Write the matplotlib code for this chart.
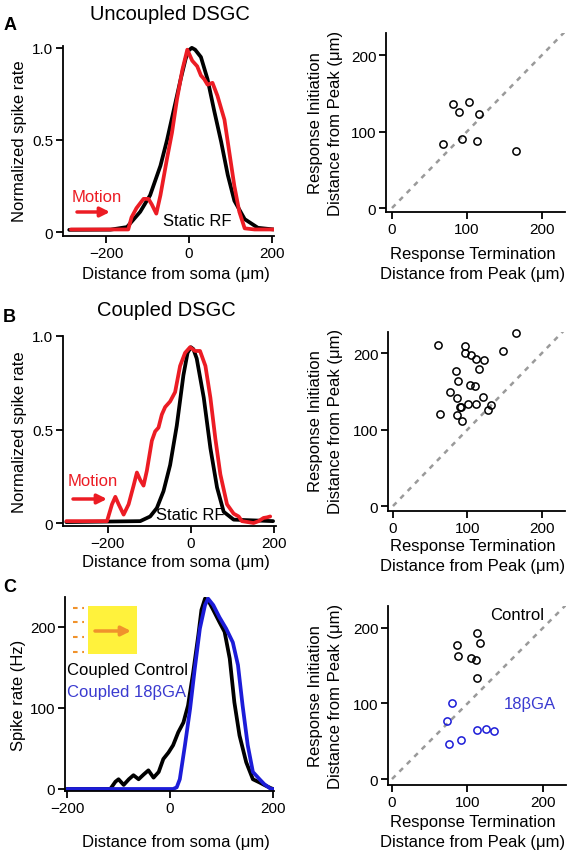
import matplotlib
matplotlib.use('Agg')
import matplotlib.pyplot as plt
from matplotlib.patches import Rectangle
from matplotlib.lines import Line2D

plt.rcParams['font.family'] = ['Liberation Sans', 'DejaVu Sans']

RED = '#ec1c24'
BLUE = '#1c1cd8'
BLUE_TXT = '#3a3ad0'
GREY = '#9a9a9a'
ORANGE = '#f0922c'
YELLOW = '#fff23c'

# ---- panel A: uncoupled DSGC, normalized spike rate vs distance (um)
a_static_x = [-290, -190, -150, -118, -94, -69, -53, -37, -20, -8, -1, 7, 15, 29, 45, 61, 78, 94, 110, 135, 167, 205]
a_static_y = [0.012, 0.013, 0.027, 0.11, 0.2, 0.36, 0.5, 0.66, 0.83, 0.94, 0.985, 1.0, 0.99, 0.95, 0.83, 0.66, 0.49, 0.31, 0.17, 0.07, 0.023, 0.014]
a_motion_x = [-286, -147, -139, -127, -110, -98, -90, -79, -69, -53, -41, -29, -16, -4, 8, 20, 29, 37, 45, 57, 69, 86, 98, 110, 122, 135, 159, 205]
a_motion_y = [0.014, 0.014, 0.08, 0.13, 0.18, 0.18, 0.15, 0.10, 0.2, 0.4, 0.54, 0.72, 0.88, 0.99, 0.93, 0.9, 0.85, 0.83, 0.8, 0.81, 0.74, 0.61, 0.43, 0.25, 0.11, 0.02, 0.014, 0.014]

# ---- panel B: coupled DSGC
b_static_x = [-300, -122, -98, -82, -66, -50, -34, -18, -8, 0, 6, 14, 31, 47, 63, 79, 103, 198]
b_static_y = [0.005, 0.01, 0.035, 0.08, 0.17, 0.31, 0.52, 0.79, 0.91, 0.94, 0.93, 0.88, 0.67, 0.4, 0.19, 0.06, 0.018, 0.01]
b_motion_x = [-300, -202, -190, -182, -174, -162, -150, -138, -130, -122, -114, -106, -94, -86, -78, -70, -62, -50, -38,
              -26, -14, -2, 10, 22, 35, 47, 59, 71, 87, 103, 115, 123, 151, 163, 175, 183, 191]
b_motion_y = [0.01, 0.01, 0.1, 0.14, 0.1, 0.045, 0.1, 0.2, 0.27, 0.23, 0.2, 0.28, 0.44, 0.49, 0.51, 0.58, 0.62, 0.65, 0.7,
              0.84, 0.91, 0.94, 0.92, 0.92, 0.84, 0.67, 0.45, 0.26, 0.1, 0.05, 0.035, 0.01, 0.0, 0.01, 0.027, 0.03, 0.035]

# ---- panel C: spike rate (Hz), control vs 18bGA
c_ctrl_x = [-200, -116, -106, -100, -90, -80, -71, -61, -51, -42, -32, -22, -13, -3, 6, 16, 26, 35, 45, 55, 61, 68, 74,
            84, 96, 106, 116, 125, 135, 148, 161, 174, 186, 196, 200]
c_ctrl_y = [0, 0, 9, 12, 5, 12, 17, 12, 18, 23, 14, 21, 37, 45, 54, 70, 82, 103, 144, 190, 221, 235, 233,
            221, 206, 194, 161, 107, 66, 33, 12, 8, 4, 1, 0]
c_gap_x = [-200, 6, 13, 19, 29, 39, 48, 58, 68, 74, 84, 96, 109, 122, 132, 141, 151, 161, 174, 183, 196, 200]
c_gap_y = [0, 0, 2, 12, 54, 99, 148, 198, 227, 235, 227, 212, 198, 181, 153, 103, 54, 21, 12, 6, 0, 0]

# ---- scatter: termination (x) vs initiation (y), um from peak
a_term = [68, 82, 90, 103, 94, 116, 113, 165]
a_init = [84, 136, 125, 139, 90, 123, 88, 75]
b_term = [61, 96, 97, 105, 112, 122, 116, 148, 165, 84, 87, 104, 110, 77, 86, 90, 91, 101, 111, 121, 131, 127, 63, 86, 92]
b_init = [211, 209, 200, 197, 192, 191, 179, 203, 226, 176, 163, 158, 157, 149, 141, 130, 130, 134, 134, 142, 132, 126, 120, 119, 111]
c_ctrl_term = [86, 88, 105, 111, 113, 116, 112]
c_ctrl_init = [177, 163, 160, 158, 193, 180, 134]
c_gap_term = [80, 73, 75, 91, 113, 124, 135]
c_gap_init = [101, 77, 47, 52, 65, 66, 64]

W, H = 570, 853
fig = plt.figure(figsize=(W / 100, H / 100), dpi=100)


def add_ax(l, t, r, b):
    return fig.add_axes([l / W, 1 - b / H, (r - l) / W, (b - t) / H])


def txt(x, y, s, **kw):
    kw.setdefault('ha', 'center')
    kw.setdefault('va', 'center')
    fig.text(x / W, 1 - y / H, s, **kw)


def style(ax):
    for side in ['top', 'right']:
        ax.spines[side].set_visible(False)
    for side in ['left', 'bottom']:
        ax.spines[side].set_linewidth(1.3)
    ax.tick_params(direction='out', length=5, width=1.3, labelsize=11, pad=2)


def arrow(x0, x1, y, color, lw=2.5, ms=14):
    fig.add_artist(plt.Annotation('', xy=(x1, H - y), xytext=(x0, H - y),
                                  xycoords='figure pixels', textcoords='figure pixels',
                                  arrowprops=dict(arrowstyle='-|>', color=color, lw=lw,
                                                  mutation_scale=ms, shrinkA=0, shrinkB=0)))


ln = dict(lw=2.7, solid_capstyle='round', solid_joinstyle='round')

# left column
axA = add_ax(63, 47, 274, 237)
axA.plot(a_static_x, a_static_y, color='black', **ln)
axA.plot(a_motion_x, a_motion_y, color=RED, **ln)
axA.set_xlim(-305, 206)
axA.set_ylim(-0.0215, 1.01)
axA.set_yticks([0, 0.5, 1.0], ['0', '0.5', '1.0'])

axB = add_ax(63, 337, 276, 527)
axB.plot(b_static_x, b_static_y, color='black', **ln)
axB.plot(b_motion_x, b_motion_y, color=RED, **ln)
axB.set_xlim(-308, 205)
axB.set_ylim(-0.016, 1.0)
axB.set_yticks([0, 0.5, 1.0], ['0', '0.5', '1.0'])

for ax in (axA, axB):
    ax.set_xticks([-200, 0, 200])
    style(ax)

axC = add_ax(65, 598, 274, 792)
axC.plot(c_ctrl_x, c_ctrl_y, color='black', **ln)
axC.plot(c_gap_x, c_gap_y, color=BLUE, **ln)
axC.set_xlim(-204, 202)
axC.set_ylim(-2.5, 237)
axC.set_xticks([-200, 0, 200])
axC.set_yticks([0, 100, 200])
style(axC)


# right column scatter
def scatter_ax(l, t, r, b, xl, yl):
    ax = add_ax(l, t, r, b)
    ax.plot([0, 232], [0, 232], color=GREY, lw=1.8, ls=(0, (2, 2.2)), zorder=1)
    ax.set_xlim(*xl)
    ax.set_ylim(*yl)
    ax.set_xticks([0, 100, 200])
    ax.set_yticks([0, 100, 200])
    style(ax)
    return ax


mk = dict(ls='none', marker='o', ms=5.2, mfc='none', mew=1.1, zorder=3, clip_on=False)
sA = scatter_ax(386, 34, 565, 213, (-8, 230.7), (-5.2, 228.8))
sA.plot(a_term, a_init, mec='black', **mk)
sB = scatter_ax(388, 333, 565, 512, (-6.7, 230.9), (-6.5, 227.5))
sB.plot(b_term, b_init, mec='black', **mk)
sC = scatter_ax(388, 607, 566, 786, (-5.3, 230.5), (-7.9, 229))
sC.plot(c_ctrl_term, c_ctrl_init, mec='black', **mk)
sC.plot(c_gap_term, c_gap_init, mec=BLUE, **mk)

# text
txt(10, 25, 'A', fontsize=13, fontweight='bold')
txt(9, 318, 'B', fontsize=13, fontweight='bold')
txt(10, 588, 'C', fontsize=13, fontweight='bold')
txt(170, 15, 'Uncoupled DSGC', fontsize=14.5)
txt(166, 310, 'Coupled DSGC', fontsize=14.5)

for y in (275, 563, 843):
    txt(176, y, 'Distance from soma (μm)', fontsize=12)
txt(20, 141, 'Normalized spike rate', fontsize=12, rotation=90)
txt(20, 432, 'Normalized spike rate', fontsize=12, rotation=90)
txt(19, 695, 'Spike rate (Hz)', fontsize=12, rotation=90)

for y0, yc in ((255, 123), (547, 421), (823, 696)):
    txt(473, y0, 'Response Termination', fontsize=12)
    txt(473, y0 + 20, 'Distance from Peak (μm)', fontsize=12)
    txt(315, yc, 'Response Initiation', fontsize=12, rotation=90)
    txt(335, yc, 'Distance from Peak (μm)', fontsize=12, rotation=90)

txt(97, 197, 'Motion', fontsize=12, color=RED)
arrow(77, 110, 213, RED)
txt(197, 222, 'Static RF', fontsize=12)
txt(93, 482, 'Motion', fontsize=12, color=RED)
arrow(73, 107, 500, RED)
txt(190, 515, 'Static RF', fontsize=12)

txt(517, 615, 'Control', fontsize=12)
txt(530, 705, '18βGA', fontsize=12, color=BLUE_TXT)
txt(67, 670, 'Coupled Control', fontsize=12, ha='left')
txt(67, 693, 'Coupled 18βGA', fontsize=12, ha='left', color=BLUE_TXT)

# stimulus inset in panel C
fig.add_artist(Rectangle((88 / W, 1 - 655 / H), 49 / W, 48 / H, transform=fig.transFigure,
                         facecolor=YELLOW, edgecolor='none'))
for y in (609, 623, 638, 653):
    fig.add_artist(Line2D([73 / W, 84 / W], [1 - y / H, 1 - y / H], transform=fig.transFigure,
                          color=ORANGE, lw=1.5, ls=(0, (2.2, 2.2))))
arrow(95, 131, 632, ORANGE, lw=2.5, ms=14)

fig.savefig('out.png', dpi=100)
